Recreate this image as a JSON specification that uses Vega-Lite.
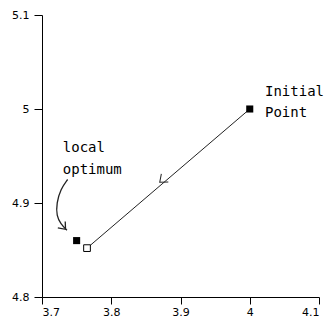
{
  "$schema": "https://vega.github.io/schema/vega-lite/v6.json",
  "width": 277,
  "height": 282,
  "autosize": {"type": "none"},
  "padding": {"left": 42, "top": 15, "right": 7, "bottom": 29},
  "background": "white",
  "config": {
    "view": {"stroke": null},
    "axis": {
      "grid": false,
      "domainColor": "#000",
      "tickColor": "#000",
      "labelColor": "#000",
      "labelFont": "DejaVu Sans",
      "labelFontSize": 11,
      "title": null
    }
  },
  "datasets": {
    "path": [
      {"x": 4.0, "y": 5.0, "o": 1},
      {"x": 3.765, "y": 4.852, "o": 2}
    ],
    "pts": [
      {"x": 4.0, "y": 5.0, "t": "filled"},
      {"x": 3.75, "y": 4.86, "t": "filled"},
      {"x": 3.765, "y": 4.852, "t": "hollow"}
    ],
    "curve": [
      {"x": 3.737, "y": 4.925, "o": 1},
      {"x": 3.727, "y": 4.915, "o": 2},
      {"x": 3.721, "y": 4.9, "o": 3},
      {"x": 3.721, "y": 4.886, "o": 4},
      {"x": 3.727, "y": 4.878, "o": 5},
      {"x": 3.736, "y": 4.871, "o": 6}
    ],
    "arrow1": [{"x": 3.870, "y": 4.922}],
    "arrow2": [{"x": 3.734, "y": 4.872}],
    "labels": [
      {"x": 4.022, "y": 5.018, "text": "Initial"},
      {"x": 4.022, "y": 4.996, "text": "Point"},
      {"x": 3.73, "y": 4.959, "text": "local"},
      {"x": 3.73, "y": 4.935, "text": "optimum"}
    ]
  },
  "encoding": {
    "x": {
      "field": "x", "type": "quantitative",
      "scale": {"domain": [3.7, 4.1], "nice": false, "zero": false},
      "axis": {"values": [3.7, 3.8, 3.9, 4, 4.1], "format": ".1~f", "tickSize": 7, "labelPadding": 2}
    },
    "y": {
      "field": "y", "type": "quantitative",
      "scale": {"domain": [4.8, 5.1], "nice": false, "zero": false},
      "axis": {"values": [4.8, 4.9, 5, 5.1], "format": ".1~f", "tickSize": 8, "labelPadding": 5}
    }
  },
  "layer": [
    {
      "data": {"name": "path"},
      "mark": {"type": "line", "color": "#222", "strokeWidth": 1},
      "encoding": {"order": {"field": "o"}}
    },
    {
      "data": {"name": "curve"},
      "mark": {"type": "line", "color": "#222", "strokeWidth": 1.3, "interpolate": "basis"},
      "encoding": {"order": {"field": "o"}}
    },
    {
      "data": {"name": "arrow1"},
      "mark": {"type": "point", "shape": "M 1 -0.8 L 0 0 L 1 0.8", "angle": 319.5, "size": 180, "filled": false, "color": "#222", "strokeWidth": 1, "opacity": 1}
    },
    {
      "data": {"name": "arrow2"},
      "mark": {"type": "point", "shape": "M 1 -0.8 L 0 0 L 1 0.8", "angle": 229, "size": 150, "filled": false, "color": "#222", "strokeWidth": 1.3, "opacity": 1}
    },
    {
      "data": {"name": "pts"},
      "transform": [{"filter": "datum.t == 'filled'"}],
      "mark": {"type": "square", "size": 50, "color": "#000", "opacity": 1}
    },
    {
      "data": {"name": "pts"},
      "transform": [{"filter": "datum.t == 'hollow'"}],
      "mark": {"type": "square", "size": 45, "filled": true, "fill": "#fff", "stroke": "#000", "strokeWidth": 1, "opacity": 1}
    },
    {
      "data": {"name": "labels"},
      "mark": {"type": "text", "align": "left", "baseline": "middle", "font": "DejaVu Sans Mono", "fontSize": 14, "color": "#000"},
      "encoding": {"text": {"field": "text"}}
    }
  ]
}
